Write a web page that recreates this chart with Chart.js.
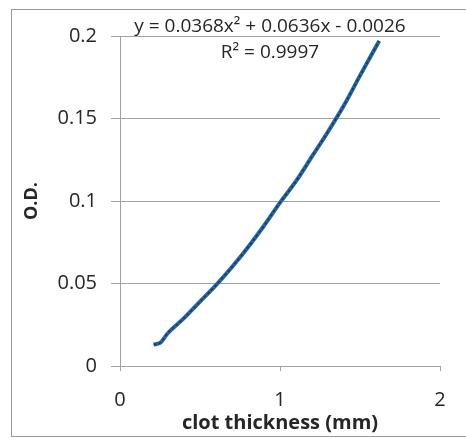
<!DOCTYPE html>
<html>
<head>
<meta charset="utf-8">
<script src="https://cdn.jsdelivr.net/npm/chart.js@4"></script>
<style>
  html, body { margin: 0; padding: 0; background: #fff; }
  #wrap { width: 466px; height: 438px; position: relative; }
</style>
</head>
<body>
<div id="wrap"><canvas id="c" width="466" height="438"></canvas></div>
<script>
// Measured optical density against clot thickness
const thicknessMm = [0.21, 0.25, 0.3, 0.4, 0.5, 0.6, 0.7, 0.8, 0.9, 1.0, 1.1, 1.2, 1.3, 1.4, 1.5, 1.62];
const opticalDensity = [0.013, 0.014, 0.020, 0.029, 0.039, 0.049, 0.060, 0.072, 0.085, 0.099, 0.112, 0.127, 0.142, 0.158, 0.176, 0.197];
const xTicks = [0, 1, 2];
const yTicks = [0, 0.05, 0.1, 0.15, 0.2];
const fitEquation = 'y = 0.0368x\u00B2 + 0.0636x - 0.0026';
const fitR2 = 'R\u00B2 = 0.9997';

const points = thicknessMm.map((x, i) => ({ x, y: opticalDensity[i] }));
const FONT = '"Open Sans", "Liberation Sans", sans-serif';
const TEXT = '#262626';
const GRID = '#a3a3a3';

const frame = {
  id: 'frame',
  beforeDraw(chart) {
    const ctx = chart.ctx;
    ctx.save();
    ctx.fillStyle = '#fff';
    ctx.fillRect(0, 0, chart.width, chart.height);
    ctx.strokeStyle = '#9a9a9a';
    ctx.lineWidth = 1;
    ctx.strokeRect(11.5, 9.5, 470, 427);
    ctx.restore();
  },
  afterDraw(chart) {
    const { ctx, chartArea } = chart;
    const cx = (chartArea.left + chartArea.right) / 2 - 10;
    ctx.save();
    ctx.fillStyle = TEXT;
    ctx.textAlign = 'center';
    ctx.textBaseline = 'middle';
    ctx.font = '19px ' + FONT;
    ctx.fillText(fitEquation, cx, chartArea.top - 9);
    ctx.fillText(fitR2, cx, chartArea.top + 17);
    ctx.restore();
  }
};

new Chart(document.getElementById('c'), {
  type: 'scatter',
  data: {
    datasets: [
      {
        data: points,
        showLine: true,
        borderColor: '#2467a6',
        borderWidth: 4,
        pointRadius: 0,
        cubicInterpolationMode: 'monotone',
        order: 2
      },
      {
        data: points,
        showLine: true,
        borderColor: '#173a5e',
        borderWidth: 1.5,
        borderDash: [3, 2],
        pointRadius: 0,
        cubicInterpolationMode: 'monotone',
        order: 1
      }
    ]
  },
  options: {
    responsive: false,
    animation: false,
    layout: { padding: { top: 36, right: 26, left: 0, bottom: 0 } },
    plugins: { legend: { display: false }, tooltip: { enabled: false } },
    scales: {
      x: {
        type: 'linear',
        min: 0, max: 2,
        afterBuildTicks(s) { s.ticks = xTicks.map(v => ({ value: v })); },
        afterFit(s) { s.height = 72; },
        grid: { drawOnChartArea: false, drawTicks: true, tickLength: 5, color: GRID, tickColor: GRID },
        border: { display: true, color: GRID, width: 1 },
        ticks: { color: TEXT, font: { family: FONT, size: 20 }, padding: 17, maxRotation: 0 },
        title: { display: true, text: 'clot thickness (mm)', color: TEXT, font: { family: FONT, size: 20, weight: 'bold' }, padding: { top: 3, bottom: 3 } }
      },
      y: {
        type: 'linear',
        min: 0, max: 0.2,
        afterBuildTicks(s) { s.ticks = yTicks.map(v => ({ value: v })); },
        afterFit(s) { s.width = 120; },
        grid: { drawOnChartArea: true, drawTicks: true, tickLength: 9, color: GRID, tickColor: GRID },
        border: { display: true, color: GRID, width: 1 },
        ticks: { color: TEXT, font: { family: FONT, size: 20 }, padding: 14, callback: v => String(v) },
        title: { display: true, text: 'O.D.', color: TEXT, font: { family: FONT, size: 18, weight: 'bold' }, padding: { top: 21, bottom: 21 } }
      }
    }
  },
  plugins: [frame]
});
</script>
</body>
</html>
